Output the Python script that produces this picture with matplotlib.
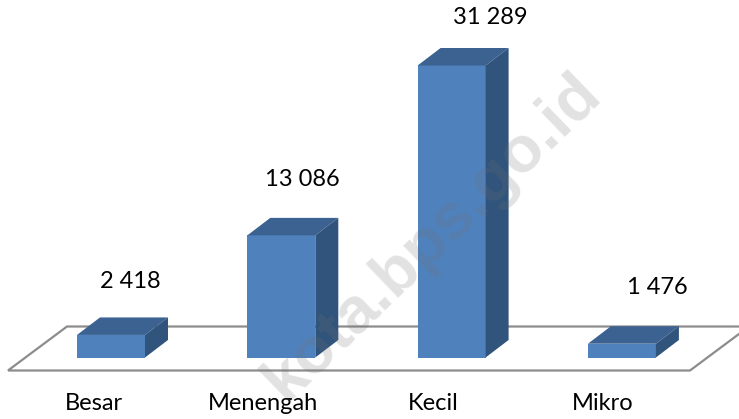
import matplotlib
matplotlib.use('Agg')
import matplotlib.pyplot as plt
from matplotlib.patches import Polygon

categories = ['Besar', 'Menengah', 'Kecil', 'Mikro']
values = [2418, 13086, 31289, 1476]
value_labels = ['2 418', '13 086', '31 289', '1 476']

W, H = 739, 419
x0_px, x_step = 111.0, 170.3
y0_px, y_scale = 357.5, 292.0 / 31289
bar_w = 68 / x_step
dx = 23 / x_step
dy = 17.5 / y_scale

plt.rcParams['font.family'] = ['Lato', 'DejaVu Sans']

fig = plt.figure(figsize=(W / 100, H / 100), dpi=100)
ax = fig.add_axes([0, 0, 1, 1])
ax.set_xlim(-x0_px / x_step, (W - x0_px) / x_step)
ax.set_ylim(-(H - y0_px) / y_scale, y0_px / y_scale)
ax.axis('off')


def px(x, y):
    return (x - x0_px) / x_step, (y0_px - y) / y_scale


# floor of the 3d chart
floor = Polygon([px(8, 370.5), px(690, 370.5), px(749, 326.5), px(67, 326.5)],
                closed=True, facecolor='white', edgecolor='#8c8c8c', linewidth=1.6)
ax.add_patch(floor)

pos = list(range(len(values)))
ax.bar(pos, values, width=bar_w, color='#4f81bd', zorder=3)
for i, v in zip(pos, values):
    l = i - bar_w / 2
    r = i + bar_w / 2
    ax.add_patch(Polygon([(l, v), (r, v), (r + dx, v + dy), (l + dx, v + dy)],
                         closed=True, facecolor='#3c6291', edgecolor='none', zorder=3))
    ax.add_patch(Polygon([(r, 0), (r + dx, dy), (r + dx, v + dy), (r, v)],
                         closed=True, facecolor='#31547c', edgecolor='none', zorder=3))

label_y = [281, 179, 18, 288]
label_x = [130, 302, 490, 657]
for lx, ly, t in zip(label_x, label_y, value_labels):
    x, y = px(lx, ly)
    ax.text(x, y, t, ha='center', va='center', fontsize=17, color='black', zorder=5)

tick_x = [94, 263, 433, 603]
for tx, c in zip(tick_x, categories):
    x, y = px(tx, 403)
    ax.text(x, y, c, ha='center', va='center', fontsize=17, color='black', zorder=5)

# watermark
x, y = px(570, 62)
ax.text(x, y, 'kota.bps.go.id', rotation=44, rotation_mode='anchor', ha='right', va='top',
        fontsize=47, fontweight='bold', family=['Liberation Sans', 'DejaVu Sans'],
        color='#707070', alpha=0.2, zorder=6)

fig.savefig('out.png', dpi=100)
